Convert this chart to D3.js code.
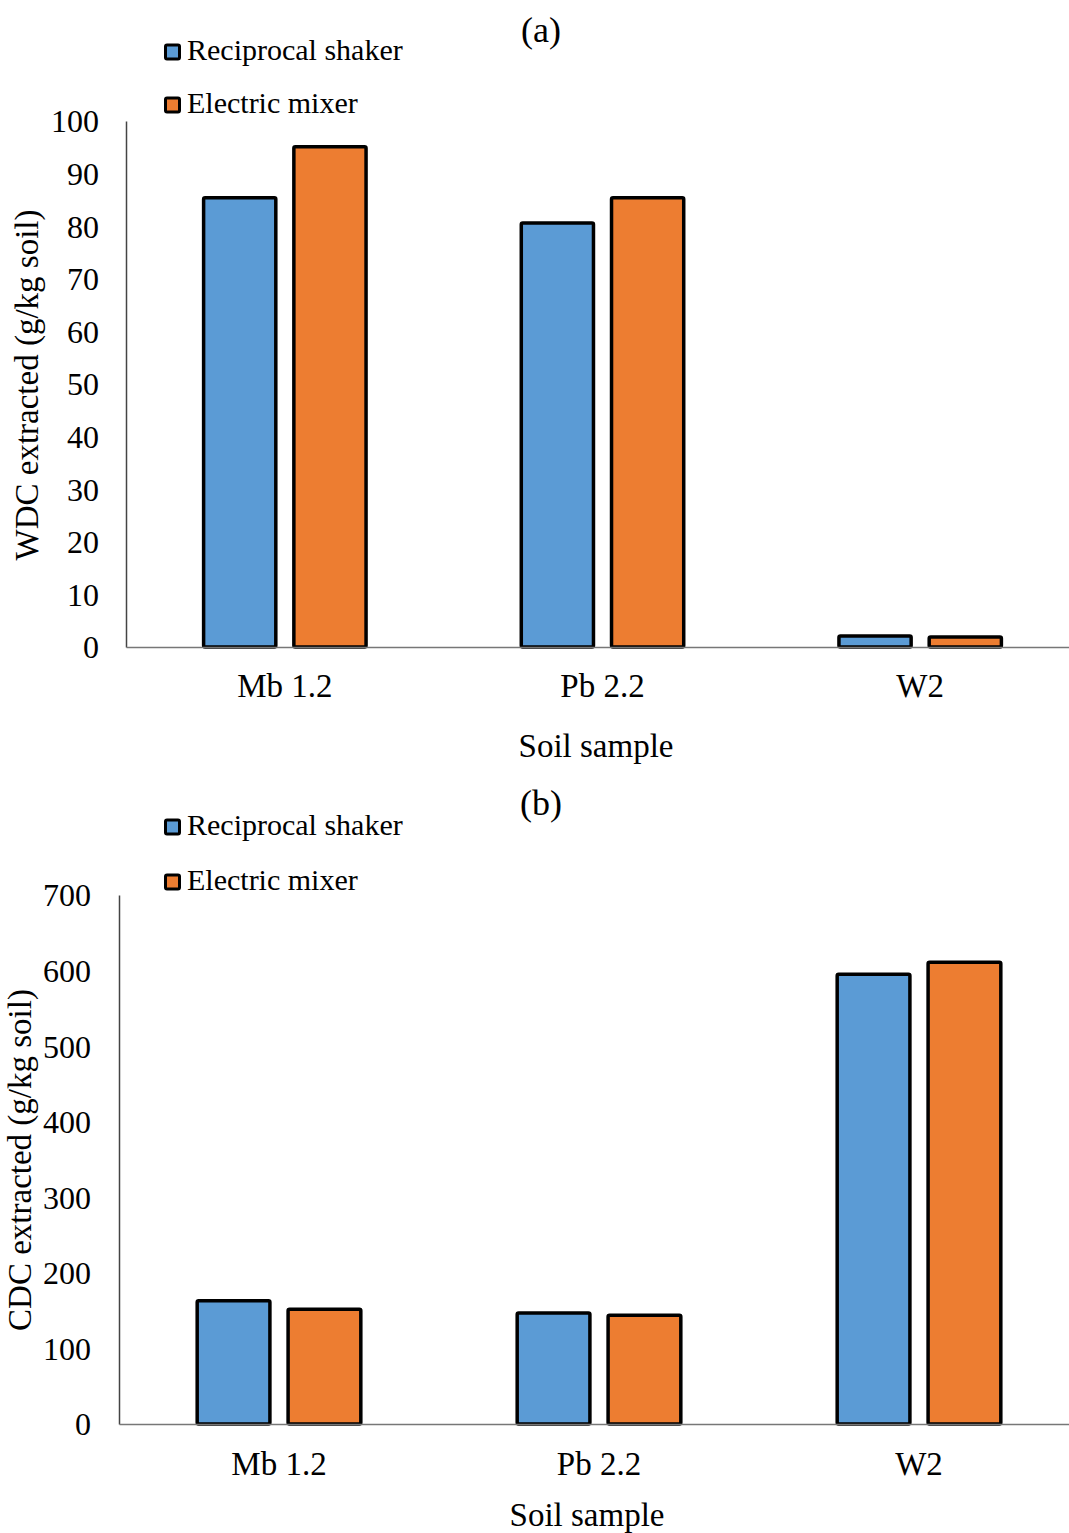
<!DOCTYPE html>
<html>
<head>
<meta charset="utf-8">
<script src="https://cdn.jsdelivr.net/npm/d3@7"></script>
<style>
  body { margin: 0; background: #fff; }
  text { font-family: "Liberation Serif", "Times New Roman", serif; fill: #000; }
</style>
</head>
<body>
<script>
// data
var samples = ["Mb 1.2", "Pb 2.2", "W2"];
var seriesNames = ["Reciprocal shaker", "Electric mixer"];
var wdcShaker = [85.4, 80.6, 2.1];
var wdcMixer = [95.1, 85.4, 1.9];
var cdcShaker = [163, 147, 595];
var cdcMixer = [152, 144, 611];
var wdcTicks = [0, 10, 20, 30, 40, 50, 60, 70, 80, 90, 100];
var cdcTicks = [0, 100, 200, 300, 400, 500, 600, 700];

var colors = ["#5B9BD5", "#ED7D31"];

var width = 1069, height = 1533;
var svg = d3.select("body").append("svg")
    .attr("width", width)
    .attr("height", height);

function panel(opt) {
  var g = svg.append("g");
  var x = d3.scaleBand().domain(samples).range([opt.left, opt.right]);
  var y = d3.scaleLinear().domain([0, opt.max]).range([opt.bottom, opt.top]);
  var x1 = d3.scaleBand().domain([0, 1]).range([0, x.bandwidth()]).paddingInner(0.2).paddingOuter(0.86);

  // y axis
  var yAxis = g.append("g")
      .attr("transform", "translate(" + opt.left + ",0)")
      .call(d3.axisLeft(y).tickValues(opt.ticks).tickSize(0).tickPadding(opt.tickPad));
  yAxis.select(".domain").attr("stroke", "#444").attr("stroke-width", 1.5);
  yAxis.selectAll("text").style("font-size", "32px").attr("dy", "0.34em");

  var data = [];
  samples.forEach(function(s, i) {
    data.push({ s: s, k: 0, v: opt.a[i] });
    data.push({ s: s, k: 1, v: opt.b[i] });
  });

  g.selectAll("rect.bar")
    .data(data)
    .enter().append("rect")
      .attr("class", "bar")
      .attr("x", function(d) { return x(d.s) + x1(d.k); })
      .attr("width", x1.bandwidth())
      .attr("y", function(d) { return y(d.v); })
      .attr("height", function(d) { return opt.bottom - y(d.v); })
      .attr("rx", 1.5)
      .style("fill", function(d) { return colors[d.k]; })
      .style("stroke", "#000")
      .style("stroke-width", 3.5);

  // x axis
  var xAxis = g.append("g")
      .attr("transform", "translate(0," + opt.bottom + ")")
      .call(d3.axisBottom(x).tickSize(0).tickPadding(opt.catPad));
  xAxis.select(".domain").attr("stroke", "#777").attr("stroke-width", 1.5);
  xAxis.selectAll("text").style("font-size", "33px");

  g.append("text")
      .attr("x", opt.xTitleX).attr("y", opt.xTitleY)
      .attr("text-anchor", "middle")
      .style("font-size", "33px")
      .text("Soil sample");

  g.append("text")
      .attr("transform", "translate(" + opt.yTitleX + "," + opt.yTitleY + ") rotate(-90)")
      .attr("text-anchor", "middle")
      .attr("dy", "0.35em")
      .style("font-size", "33px")
      .text(opt.yTitle);

  g.append("text")
      .attr("x", 541).attr("y", opt.labelY)
      .attr("text-anchor", "middle")
      .style("font-size", "36px")
      .text(opt.label);

  var leg = g.selectAll("g.leg")
    .data(seriesNames)
    .enter().append("g")
      .attr("transform", function(d, i) { return "translate(164," + (opt.legY + i * opt.legStep) + ")"; });
  leg.append("rect")
      .attr("x", 1.5).attr("y", -15).attr("width", 14).attr("height", 14)
      .attr("rx", 1.5)
      .style("fill", function(d, i) { return colors[i]; })
      .style("stroke", "#000").style("stroke-width", 3);
  leg.append("text")
      .attr("x", 23).attr("y", 0)
      .style("font-size", "30px")
      .text(function(d) { return d; });
}

panel({
  a: wdcShaker, b: wdcMixer, max: 100, ticks: wdcTicks,
  left: 126, right: 1079, top: 121, bottom: 647,
  tickPad: 27, catPad: 27,
  xTitleX: 596, xTitleY: 757,
  yTitle: "WDC extracted (g/kg soil)", yTitleX: 26, yTitleY: 385,
  label: "(a)", labelY: 42,
  legY: 60, legStep: 53
});

panel({
  a: cdcShaker, b: cdcMixer, max: 700, ticks: cdcTicks,
  left: 119, right: 1079, top: 895, bottom: 1424,
  tickPad: 28, catPad: 28,
  xTitleX: 587, xTitleY: 1526,
  yTitle: "CDC extracted (g/kg soil)", yTitleX: 19, yTitleY: 1160,
  label: "(b)", labelY: 815,
  legY: 835, legStep: 55
});
</script>
</body>
</html>
